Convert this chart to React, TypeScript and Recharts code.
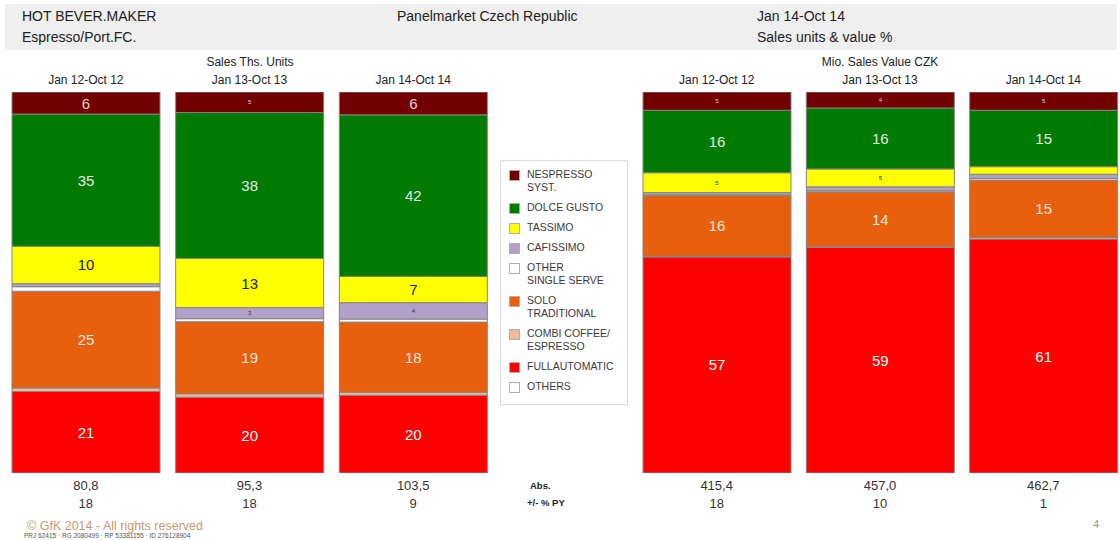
import React from 'react';
import { Bar, BarChart, LabelList, XAxis, YAxis } from 'recharts';

const periods = ['Jan 12-Oct 12', 'Jan 13-Oct 13', 'Jan 14-Oct 14'];

// share of sales units, %
const unitsNespresso = [5.8, 5.4, 6.0];
const unitsDolce = [34.7, 38.3, 42.4];
const unitsTassimo = [9.8, 12.9, 6.9];
const unitsCafissimo = [0.8, 2.9, 4.3];
const unitsOtherSingle = [1.2, 0.8, 0.8];
const unitsSolo = [25.4, 18.9, 18.4];
const unitsCombi = [0.9, 0.9, 0.8];
const unitsFull = [21.4, 19.9, 20.4];
const unitsAbs = [80.8, 95.3, 103.5];
const unitsPy = [18, 18, 9];

// share of sales value, %
const valueNespresso = [4.8, 4.2, 4.8];
const valueDolce = [16.4, 16.0, 14.8];
const valueTassimo = [5.2, 4.7, 2.0];
const valueCafissimo = [0.6, 1.0, 1.1];
const valueOtherSingle = [0.2, 0.3, 0.4];
const valueSolo = [15.9, 14.4, 15.1];
const valueCombi = [0.2, 0.2, 0.4];
const valueFull = [56.7, 59.2, 61.4];
const valueAbs = [415.4, 457.0, 462.7];
const valuePy = [18, 10, 1];

const FONT = '"Liberation Sans", Arial, sans-serif';

// stacking order, bottom first
const segments = [
  { key: 'full', color: '#ff0000', text: '#ffffff' },
  { key: 'combi', color: '#f4b89a', text: '#333333' },
  { key: 'solo', color: '#e8600e', text: '#f4e6dc' },
  { key: 'other', color: '#ffffff', text: '#333333' },
  { key: 'cafissimo', color: '#b1a0c8', text: '#333333' },
  { key: 'tassimo', color: '#ffff00', text: '#222222' },
  { key: 'dolce', color: '#007a00', text: '#e6e6e6' },
  { key: 'nespresso', color: '#730000', text: '#e0d0d0' },
];

const legendItems = [
  { lines: ['NESPRESSO', 'SYST.'], color: '#730000' },
  { lines: ['DOLCE GUSTO'], color: '#007a00' },
  { lines: ['TASSIMO'], color: '#ffff00' },
  { lines: ['CAFISSIMO'], color: '#b1a0c8' },
  { lines: ['OTHER', 'SINGLE SERVE'], color: '#ffffff' },
  { lines: ['SOLO', 'TRADITIONAL'], color: '#e8600e' },
  { lines: ['COMBI COFFEE/', 'ESPRESSO'], color: '#f4b89a' },
  { lines: ['FULLAUTOMATIC'], color: '#ff0000' },
  { lines: ['OTHERS'], color: '#ffffff' },
];

const unitRows = periods.map((period, i) => ({
  period,
  nespresso: unitsNespresso[i],
  dolce: unitsDolce[i],
  tassimo: unitsTassimo[i],
  cafissimo: unitsCafissimo[i],
  other: unitsOtherSingle[i],
  solo: unitsSolo[i],
  combi: unitsCombi[i],
  full: unitsFull[i],
}));

const valueRows = periods.map((period, i) => ({
  period,
  nespresso: valueNespresso[i],
  dolce: valueDolce[i],
  tassimo: valueTassimo[i],
  cafissimo: valueCafissimo[i],
  other: valueOtherSingle[i],
  solo: valueSolo[i],
  combi: valueCombi[i],
  full: valueFull[i],
}));

const fmt = (v: number) => v.toFixed(1).replace('.', ',');

const segLabel = (color: string) => (p: any) => {
  const v = Number(p.value);
  if (!v || v < 2.5) return null;
  const n = Math.round(v);
  const x = Number(p.x) + Number(p.width) / 2;
  const y = Number(p.y) + Number(p.height) / 2;
  return (
    <text x={x} y={y} textAnchor="middle" dominantBaseline="central"
      fontSize={n <= 5 ? 6 : 15} fill={color} fontFamily={FONT}>
      {n}
    </text>
  );
};

const AbsTick = (props: any) => {
  const { x, y, payload, absVals, pyVals } = props;
  const i = periods.indexOf(payload.value);
  return (
    <g>
      <text x={x} y={y} dy={9} textAnchor="middle" fontSize={13} fill="#333" fontFamily={FONT}>
        {fmt(absVals[i])}
      </text>
      <text x={x} y={y} dy={27} textAnchor="middle" fontSize={13} fill="#333" fontFamily={FONT}>
        {pyVals[i]}
      </text>
    </g>
  );
};

const Panel = ({ rows, left, width, absVals, pyVals }: any) => (
  <div style={{ position: 'absolute', left, top: 70 }}>
    <BarChart width={width} height={443} data={rows} margin={{ top: 0, right: 0, bottom: 0, left: 0 }}>
      <XAxis xAxisId="top" dataKey="period" orientation="top" height={22}
        axisLine={false} tickLine={false} interval={0}
        tick={{ fontSize: 12, fill: '#222', fontFamily: FONT }} />
      <XAxis xAxisId="bottom" dataKey="period" orientation="bottom" height={40}
        axisLine={false} tickLine={false} interval={0}
        tick={(t: any) => <AbsTick {...t} absVals={absVals} pyVals={pyVals} />} />
      <YAxis hide domain={[0, 100]} type="number" allowDataOverflow />
      {segments.map((s) => (
        <Bar key={s.key} xAxisId="top" dataKey={s.key} stackId="a" fill={s.color}
          stroke="#858585" strokeWidth={1} barSize={148} isAnimationActive={false}>
          <LabelList dataKey={s.key} content={segLabel(s.text)} />
        </Bar>
      ))}
    </BarChart>
  </div>
);

export default function App() {
  return (
    <div style={{ position: 'absolute', left: 0, top: 0, width: 1120, height: 540, background: '#fff', fontFamily: FONT, color: '#222', overflow: 'hidden' }}>
      <div style={{ position: 'absolute', left: 5, top: 4, width: 1112, height: 46, background: '#efefef' }} />
      <div style={{ position: 'absolute', left: 22, top: 6, fontSize: 14, lineHeight: '20px' }}>HOT BEVER.MAKER</div>
      <div style={{ position: 'absolute', left: 22, top: 27, fontSize: 14, lineHeight: '20px' }}>Espresso/Port.FC.</div>
      <div style={{ position: 'absolute', left: 397, top: 6, fontSize: 14, lineHeight: '20px' }}>Panelmarket Czech Republic</div>
      <div style={{ position: 'absolute', left: 757, top: 6, fontSize: 14, lineHeight: '20px' }}>Jan 14-Oct 14</div>
      <div style={{ position: 'absolute', left: 757, top: 27, fontSize: 14, lineHeight: '20px' }}>Sales units &amp; value %</div>

      <div style={{ position: 'absolute', left: 150, width: 200, top: 54, textAlign: 'center', fontSize: 12, lineHeight: '16px' }}>Sales Ths. Units</div>
      <div style={{ position: 'absolute', left: 780, width: 200, top: 54, textAlign: 'center', fontSize: 12, lineHeight: '16px' }}>Mio. Sales Value CZK</div>

      <Panel rows={unitRows} left={4} width={491} absVals={unitsAbs} pyVals={unitsPy} />
      <Panel rows={valueRows} left={635} width={490} absVals={valueAbs} pyVals={valuePy} />

      <div style={{ position: 'absolute', left: 500, top: 160, width: 128, height: 245, border: '1px solid #dcdcdc', background: '#fff', boxSizing: 'border-box', padding: '7px 0 0 8px' }}>
        {legendItems.map((it) => (
          <div key={it.lines.join(' ')} style={{ display: 'flex', alignItems: 'flex-start', marginBottom: 7 }}>
            <div style={{ width: 9, height: 9, marginTop: 2, background: it.color, border: '1px solid #b0b0b0', flex: 'none' }} />
            <div style={{ marginLeft: 7, fontSize: 10.5, lineHeight: '13px', color: '#3a3a3a' }}>
              {it.lines.map((l) => <div key={l}>{l}</div>)}
            </div>
          </div>
        ))}
      </div>

      <div style={{ position: 'absolute', left: 530, top: 480, fontSize: 9.5, fontWeight: 'bold', color: '#222' }}>Abs.</div>
      <div style={{ position: 'absolute', left: 527, top: 497, fontSize: 9.5, fontWeight: 'bold', color: '#222' }}>+/- % PY</div>

      <div style={{ position: 'absolute', left: 27, top: 519, fontSize: 12.5, color: '#c89870', lineHeight: '15px' }}>© GfK 2014 - All rights reserved</div>
      <div style={{ position: 'absolute', left: 24, top: 532, fontSize: 6.5, color: '#555', lineHeight: '7px', whiteSpace: 'nowrap' }}>PRJ 62415 · RG 2080499 · RP 53381155 · ID 276128904</div>
      <div style={{ position: 'absolute', left: 1093, top: 518, fontSize: 11, color: '#999' }}>4</div>
    </div>
  );
}
